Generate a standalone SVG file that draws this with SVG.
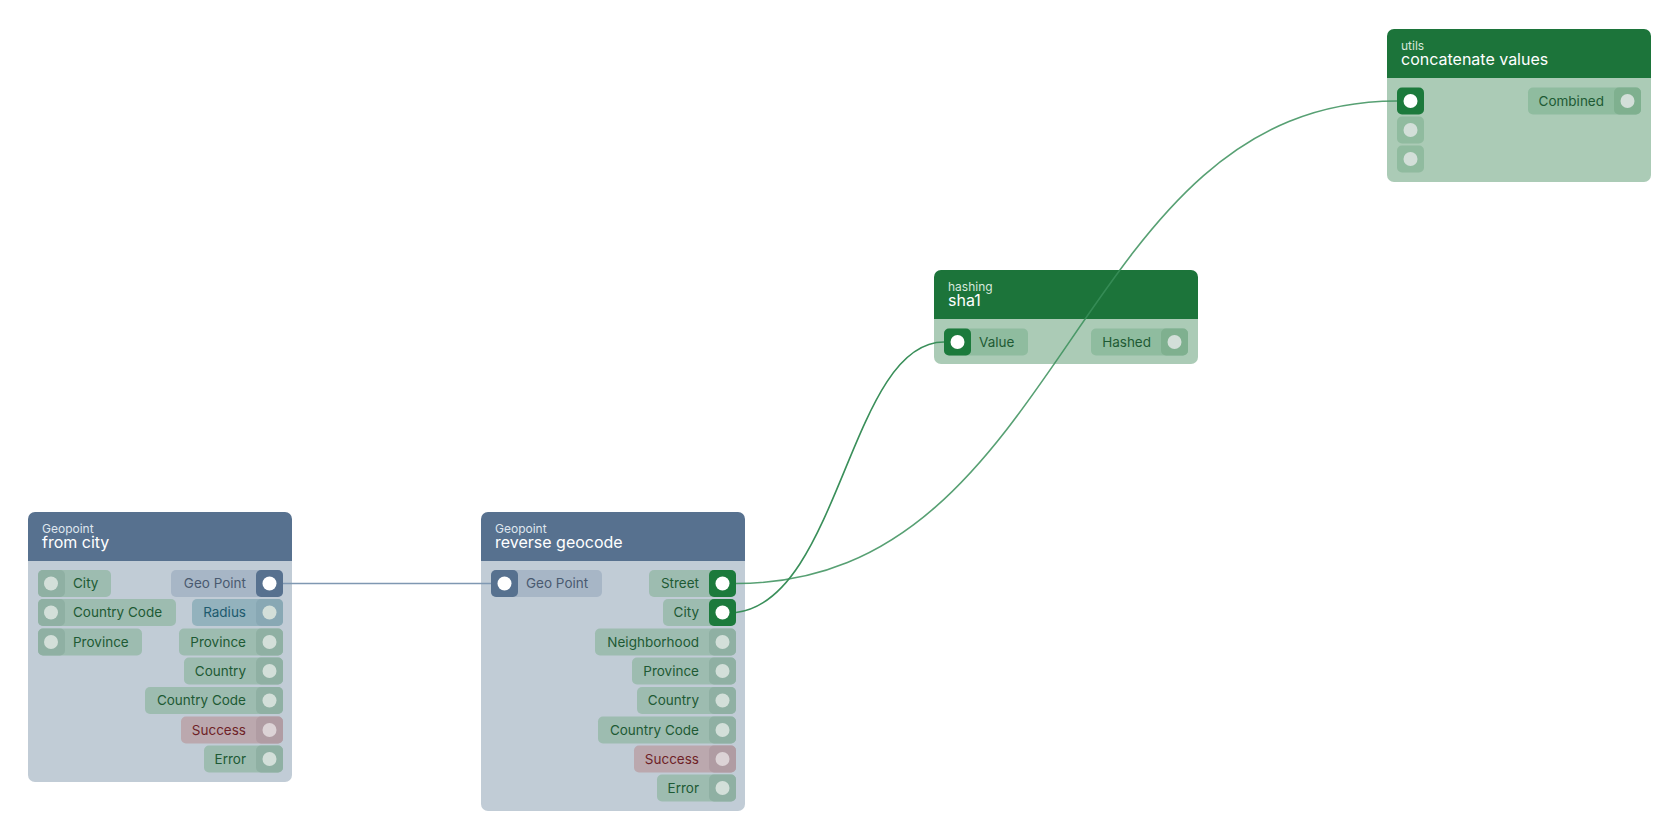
<svg xmlns="http://www.w3.org/2000/svg" width="1680" height="840" viewBox="0 0 1680 840">
<style>
text{font-family:Inter,"Noto Sans","Liberation Sans",sans-serif}
.cat{font-size:12px;fill:#dfe6ee}
.ttl{font-size:16px;fill:#ffffff}
.lbl{font-size:13.5px;fill:#1e5a34}
.bh{fill:#57718f}.bb{fill:#c1ccd6}
.gh{fill:#1c743a}.gb{fill:#abcbb6}
.p{fill:#9dbcb0}.ps{fill:#8fb0a3}
.gp{fill:#8fbc9f}.gps{fill:#7fb08f}
.c{fill:#d3dfd9}.ca{fill:#ffffff}
.wire{fill:none;stroke:#3a8f5a;stroke-width:1.6}
</style>
<rect width="1680" height="840" fill="#ffffff"/>

<g id="from-city">
<path class="bh" d="M28,519a7,7 0 0 1 7,-7h250a7,7 0 0 1 7,7v42h-264z"/>
<path class="bb" d="M28,561h264v214a7,7 0 0 1 -7,7h-250a7,7 0 0 1 -7,-7z"/>
<text class="cat" x="42" y="532.5">Geopoint</text>
<text class="ttl" x="42" y="548">from city</text>
<rect class="p" x="38" y="570" width="73" height="27" rx="5"/><rect class="ps" x="38" y="570" width="27" height="27" rx="5"/><circle class="c" cx="51" cy="583.5" r="7"/><text class="lbl" x="73" y="588">City</text>
<rect class="p" x="38" y="599" width="138" height="27" rx="5"/><rect class="ps" x="38" y="599" width="27" height="27" rx="5"/><circle class="c" cx="51" cy="612.5" r="7"/><text class="lbl" x="73" y="617">Country Code</text>
<rect class="p" x="38" y="628.5" width="104" height="27" rx="5"/><rect class="ps" x="38" y="628.5" width="27" height="27" rx="5"/><circle class="c" cx="51" cy="642" r="7"/><text class="lbl" x="73" y="646.5">Province</text>
<rect fill="#a7b6c6" x="171" y="570" width="112" height="27" rx="5"/><rect fill="#57718f" x="256" y="570" width="27" height="27" rx="5"/><circle class="ca" cx="269.5" cy="583.5" r="7"/><text class="lbl" x="246" y="588" text-anchor="end" style="fill:#4a5a70">Geo Point</text>
<rect fill="#93b2bd" x="192" y="599" width="91" height="27" rx="5"/><rect fill="#88a8b4" x="256" y="599" width="27" height="27" rx="5"/><circle class="c" cx="269.5" cy="612.5" r="7"/><text class="lbl" x="246" y="617" text-anchor="end" style="fill:#1d5a6e">Radius</text>
<rect class="p" x="179" y="628.5" width="104" height="27" rx="5"/><rect class="ps" x="256" y="628.5" width="27" height="27" rx="5"/><circle class="c" cx="269.5" cy="642" r="7"/><text class="lbl" x="246" y="646.5" text-anchor="end">Province</text>
<rect class="p" x="184" y="657.5" width="99" height="27" rx="5"/><rect class="ps" x="256" y="657.5" width="27" height="27" rx="5"/><circle class="c" cx="269.5" cy="671" r="7"/><text class="lbl" x="246" y="675.5" text-anchor="end">Country</text>
<rect class="p" x="145" y="687" width="138" height="27" rx="5"/><rect class="ps" x="256" y="687" width="27" height="27" rx="5"/><circle class="c" cx="269.5" cy="700.5" r="7"/><text class="lbl" x="246" y="705" text-anchor="end">Country Code</text>
<rect fill="#bba8ae" x="181" y="716.5" width="102" height="27" rx="5"/><rect fill="#b09ca3" x="256" y="716.5" width="27" height="27" rx="5"/><circle fill="#dcd3d6" cx="269.5" cy="730" r="7"/><text class="lbl" x="246" y="734.5" text-anchor="end" style="fill:#6e1f28">Success</text>
<rect class="p" x="204" y="745.5" width="79" height="27" rx="5"/><rect class="ps" x="256" y="745.5" width="27" height="27" rx="5"/><circle class="c" cx="269.5" cy="759" r="7"/><text class="lbl" x="246" y="763.5" text-anchor="end">Error</text>
</g>

<g id="reverse-geocode">
<path class="bh" d="M481,519a7,7 0 0 1 7,-7h250a7,7 0 0 1 7,7v42h-264z"/>
<path class="bb" d="M481,561h264v243a7,7 0 0 1 -7,7h-250a7,7 0 0 1 -7,-7z"/>
<text class="cat" x="495" y="532.5">Geopoint</text>
<text class="ttl" x="495" y="548">reverse geocode</text>
<rect fill="#a7b6c6" x="491" y="570" width="111" height="27" rx="5"/><rect fill="#57718f" x="491" y="570" width="27" height="27" rx="5"/><circle class="ca" cx="504.5" cy="583.5" r="7"/><text class="lbl" x="526" y="588" style="fill:#4a5a70">Geo Point</text>
<rect class="p" x="649" y="570" width="87" height="27" rx="5"/><rect fill="#1c7a3c" x="709" y="570" width="27" height="27" rx="5"/><circle class="ca" cx="722.5" cy="583.5" r="7"/><text class="lbl" x="699" y="588" text-anchor="end">Street</text>
<rect class="p" x="663" y="599" width="73" height="27" rx="5"/><rect fill="#1c7a3c" x="709" y="599" width="27" height="27" rx="5"/><circle class="ca" cx="722.5" cy="612.5" r="7"/><text class="lbl" x="699" y="617" text-anchor="end">City</text>
<rect class="p" x="595" y="628.5" width="141" height="27" rx="5"/><rect class="ps" x="709" y="628.5" width="27" height="27" rx="5"/><circle class="c" cx="722.5" cy="642" r="7"/><text class="lbl" x="699" y="646.5" text-anchor="end">Neighborhood</text>
<rect class="p" x="632" y="657.5" width="104" height="27" rx="5"/><rect class="ps" x="709" y="657.5" width="27" height="27" rx="5"/><circle class="c" cx="722.5" cy="671" r="7"/><text class="lbl" x="699" y="675.5" text-anchor="end">Province</text>
<rect class="p" x="637" y="687" width="99" height="27" rx="5"/><rect class="ps" x="709" y="687" width="27" height="27" rx="5"/><circle class="c" cx="722.5" cy="700.5" r="7"/><text class="lbl" x="699" y="705" text-anchor="end">Country</text>
<rect class="p" x="598" y="716.5" width="138" height="27" rx="5"/><rect class="ps" x="709" y="716.5" width="27" height="27" rx="5"/><circle class="c" cx="722.5" cy="730" r="7"/><text class="lbl" x="699" y="734.5" text-anchor="end">Country Code</text>
<rect fill="#bba8ae" x="634" y="745.5" width="102" height="27" rx="5"/><rect fill="#b09ca3" x="709" y="745.5" width="27" height="27" rx="5"/><circle fill="#dcd3d6" cx="722.5" cy="759" r="7"/><text class="lbl" x="699" y="763.5" text-anchor="end" style="fill:#6e1f28">Success</text>
<rect class="p" x="657" y="774.5" width="79" height="27" rx="5"/><rect class="ps" x="709" y="774.5" width="27" height="27" rx="5"/><circle class="c" cx="722.5" cy="788" r="7"/><text class="lbl" x="699" y="792.5" text-anchor="end">Error</text>
</g>

<g id="sha1">
<path class="gh" d="M934,277a7,7 0 0 1 7,-7h250a7,7 0 0 1 7,7v42h-264z"/>
<path class="gb" d="M934,319h264v38a7,7 0 0 1 -7,7h-250a7,7 0 0 1 -7,-7z"/>
<text class="cat" x="948" y="290.5" style="fill:#d7e8dc">hashing</text>
<text class="ttl" x="948" y="306">sha1</text>
<rect class="gp" x="944" y="328.5" width="84" height="27" rx="5"/><rect fill="#1c7a3c" x="944" y="328.5" width="27" height="27" rx="5"/><circle class="ca" cx="957.5" cy="342" r="7"/><text class="lbl" x="979" y="346.5">Value</text>
<rect class="gp" x="1091" y="328.5" width="97" height="27" rx="5"/><rect class="gps" x="1161" y="328.5" width="27" height="27" rx="5"/><circle class="c" cx="1174.5" cy="342" r="7"/><text class="lbl" x="1151" y="346.5" text-anchor="end">Hashed</text>
</g>

<g id="concatenate-values">
<path class="gh" d="M1387,36a7,7 0 0 1 7,-7h250a7,7 0 0 1 7,7v42h-264z"/>
<path class="gb" d="M1387,78h264v97a7,7 0 0 1 -7,7h-250a7,7 0 0 1 -7,-7z"/>
<text class="cat" x="1401" y="49.5" style="fill:#d7e8dc">utils</text>
<text class="ttl" x="1401" y="65">concatenate values</text>
<rect fill="#1c7a3c" x="1397" y="87.5" width="27" height="27" rx="5"/><circle class="ca" cx="1410.5" cy="101" r="7"/>
<rect class="gps" x="1397" y="116.5" width="27" height="27" rx="5" opacity="0.6"/><circle class="c" cx="1410.5" cy="130" r="7"/>
<rect class="gps" x="1397" y="145.5" width="27" height="27" rx="5" opacity="0.6"/><circle class="c" cx="1410.5" cy="159" r="7"/>
<rect class="gp" x="1528" y="87.5" width="113" height="27" rx="5"/><rect class="gps" x="1614" y="87.5" width="27" height="27" rx="5"/><circle class="c" cx="1627.5" cy="101" r="7"/><text class="lbl" x="1604" y="105.5" text-anchor="end">Combined</text>
</g>

<g id="connectors">
<path d="M283,583.5H491" fill="none" stroke="#7f98b2" stroke-width="1.6"/>
<path class="wire" d="M736,583.5C1070,583.5 1070,101 1397,101" opacity="0.85"/>
<path class="wire" d="M736,612.5C840,600 850,342 944,342"/>
</g>
</svg>
